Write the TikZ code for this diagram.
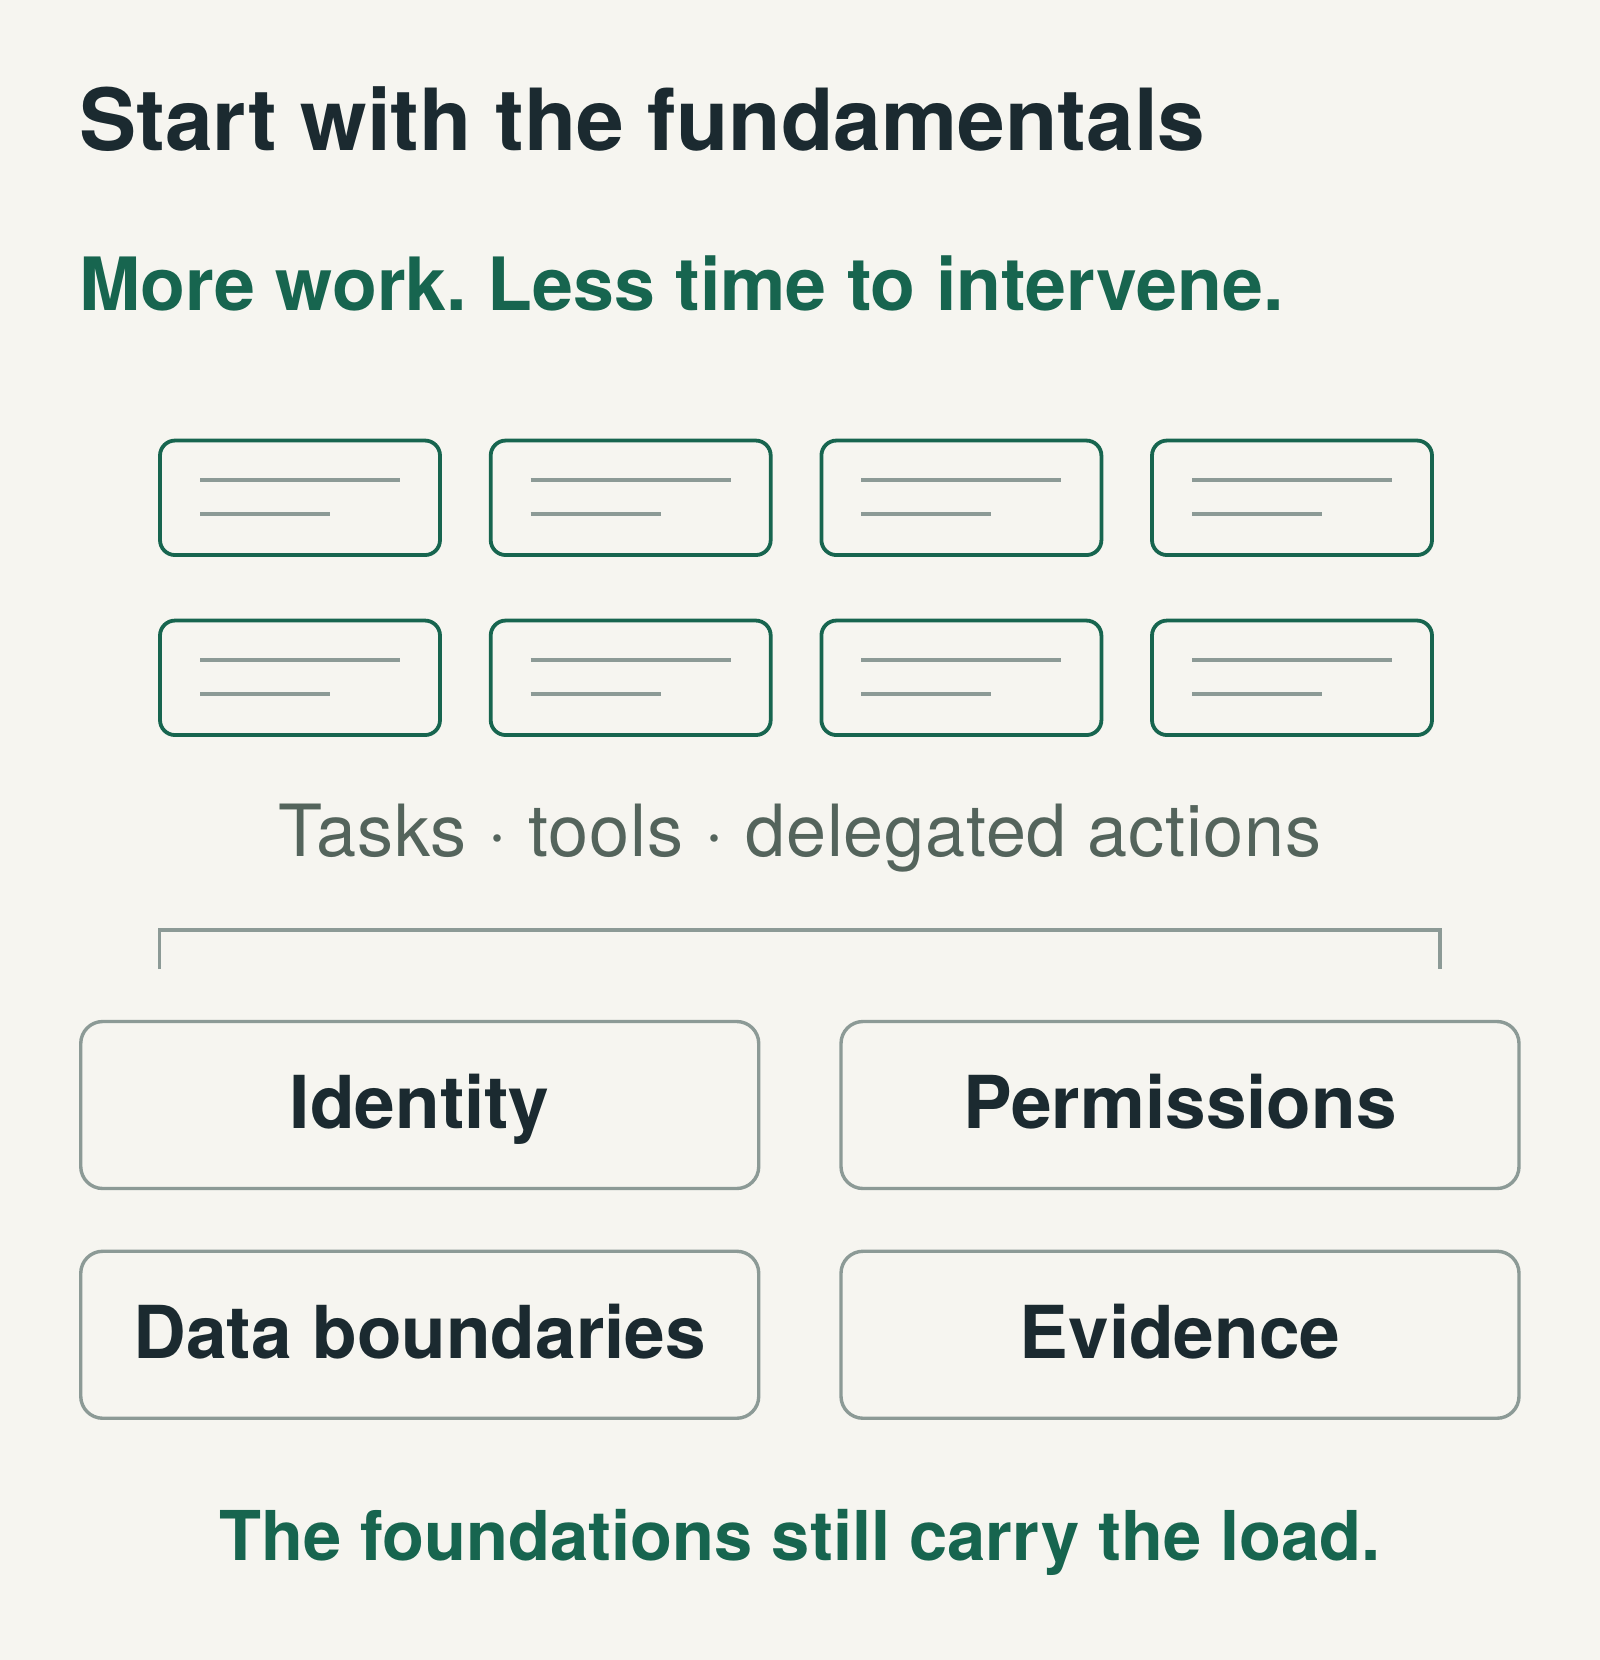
\documentclass[tikz,border=0pt]{standalone}
\usepackage{fontspec}
\setmainfont{TeX Gyre Heros}
\frenchspacing
\definecolor{bgc}{HTML}{F6F5F0}
\definecolor{darkc}{HTML}{1B2A30}
\definecolor{greenc}{HTML}{17654F}
\definecolor{grayc}{HTML}{8C9A96}
\definecolor{capc}{HTML}{54645C}
\tikzset{
  tbox/.style={draw=greenc, line width=3.8pt, rounded corners=15pt, minimum width=280pt, minimum height=114.5pt, inner sep=0pt},
  tline/.style={draw=grayc, line width=4pt},
  fbox/.style={draw=grayc, line width=3.4pt, rounded corners=22pt, minimum width=678pt, minimum height=167pt, inner sep=0pt,
     text=darkc, font=\fontsize{73}{78}\selectfont\bfseries, text height=52.5pt, text depth=5pt},
  bracketln/.style={draw=grayc, line width=3.6pt, line join=miter},
  titletext/.style={anchor=base west, inner sep=0pt, text=darkc, font=\fontsize{85.7}{90}\selectfont\bfseries},
  subtext/.style={anchor=base west, inner sep=0pt, text=greenc, font=\fontsize{73.5}{78}\selectfont\bfseries},
  captext/.style={anchor=base, inner sep=0pt, text=capc, font=\fontsize{72}{76}\selectfont\addfontfeature{LetterSpace=1.2}},
  foottext/.style={anchor=base, inner sep=0pt, text=greenc, font=\fontsize{68.7}{72}\selectfont\bfseries}
}
\begin{document}
\begin{tikzpicture}[x=1pt,y=-1pt]
\fill[bgc] (0,0) rectangle (1600,1660);
\useasboundingbox (0,0) rectangle (1600,1660);
\node[titletext] (title) at (79,150) {Start with the fundamentals};
\node[subtext] (sub) at (79,310) {More work. Less time to intervene.};
% task boxes
\foreach \i/\x in {1/300,2/630.7,3/961.4,4/1292}{
  \node[tbox] (a\i) at (\x,497.8) {};
  \node[tbox] (b\i) at (\x,677.8) {};
  \draw[tline] ([shift={(-100,-18)}]a\i.center) -- ++(200,0);
  \draw[tline] ([shift={(-100,16)}]a\i.center) -- ++(130,0);
  \draw[tline] ([shift={(-100,-18)}]b\i.center) -- ++(200,0);
  \draw[tline] ([shift={(-100,16)}]b\i.center) -- ++(130,0);
}
\node[captext] (cap) at (800,856) {Tasks · tools · delegated actions};
% bracket
\coordinate (k1) at (159.5,969);
\coordinate (k2) at (159.5,930);
\coordinate (k3) at (1440,930);
\coordinate (k4) at (1440,969);
\draw[bracketln] (k1) -- (k2) -- (k3) -- (k4);
% foundation boxes
\node[fbox] (id) at (419.75,1105) {Identity};
\node[fbox] (perm) at (1180,1105) {Permissions};
\node[fbox] (data) at (419.75,1334.75) {Data boundaries};
\node[fbox] (evid) at (1180,1334.75) {Evidence};
\node[foottext] (foot) at (800,1560) {The foundations still carry the load.};
\end{tikzpicture}
\end{document}
